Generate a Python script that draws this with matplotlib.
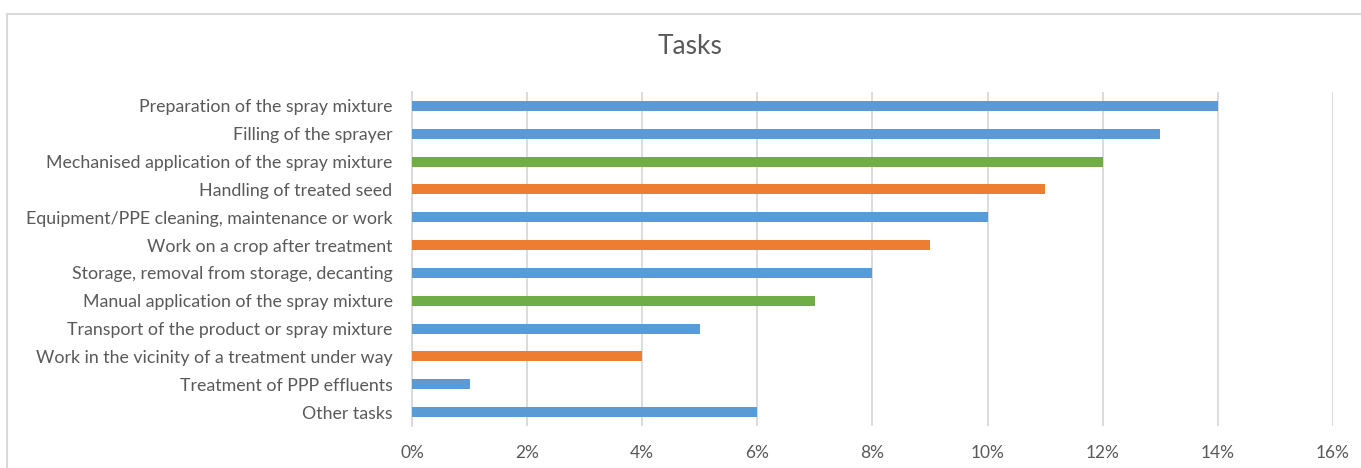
import matplotlib.pyplot as plt
from matplotlib.patches import Rectangle
from matplotlib.ticker import FuncFormatter

tasks = [
    "Preparation of the spray mixture",
    "Filling of the sprayer",
    "Mechanised application of the spray mixture",
    "Handling of treated seed",
    "Equipment/PPE cleaning, maintenance or work",
    "Work on a crop after treatment",
    "Storage, removal from storage, decanting",
    "Manual application of the spray mixture",
    "Transport of the product or spray mixture",
    "Work in the vicinity of a treatment under way",
    "Treatment of PPP effluents",
    "Other tasks",
]
shares = [14, 13, 12, 11, 10, 9, 8, 7, 5, 4, 1, 6]
groups = ["b", "b", "g", "o", "b", "o", "b", "g", "b", "o", "b", "b"]

palette = {"b": "#5B9BD5", "o": "#ED7D31", "g": "#70AD47"}
text_col = "#595959"
grid_col = "#D9D9D9"

plt.rcParams['font.family'] = ['Lato', 'DejaVu Sans']

fig = plt.figure(figsize=(13.61, 4.68), dpi=100)
ax = fig.add_axes([0.3027, 0.0897, 0.6767, 0.7137])

ypos = list(range(len(tasks)))
ax.barh(ypos, shares, height=0.36, color=[palette[g] for g in groups], zorder=3)

ax.set_xlim(0, 16)
ax.set_ylim(len(tasks) - 0.5, -0.5)
ax.set_xticks(range(0, 17, 2))
ax.xaxis.set_major_formatter(FuncFormatter(lambda v, p: f"{v:.0f}%"))
ax.set_yticks(ypos)
ax.set_yticklabels(tasks)
ax.tick_params(axis="both", length=0, colors=text_col)
ax.tick_params(axis="y", pad=14, labelsize=12.8)
ax.tick_params(axis="x", pad=14, labelsize=12.5)
ax.grid(axis="x", color=grid_col, linewidth=1.3, zorder=0)
for s in ["top", "right", "bottom"]:
    ax.spines[s].set_visible(False)
ax.spines["left"].set_color(grid_col)
ax.spines["left"].set_linewidth(1.3)

fig.text(0.507, 0.90, "Tasks", ha="center", va="center", fontsize=19, color=text_col)

# chart frame, running off the right and bottom edges
fig.patches.append(Rectangle((0.0051, -0.05), 1.05, 1.02, transform=fig.transFigure,
                             fill=False, edgecolor=grid_col, linewidth=1.5))

fig.savefig("out.png", dpi=100)
